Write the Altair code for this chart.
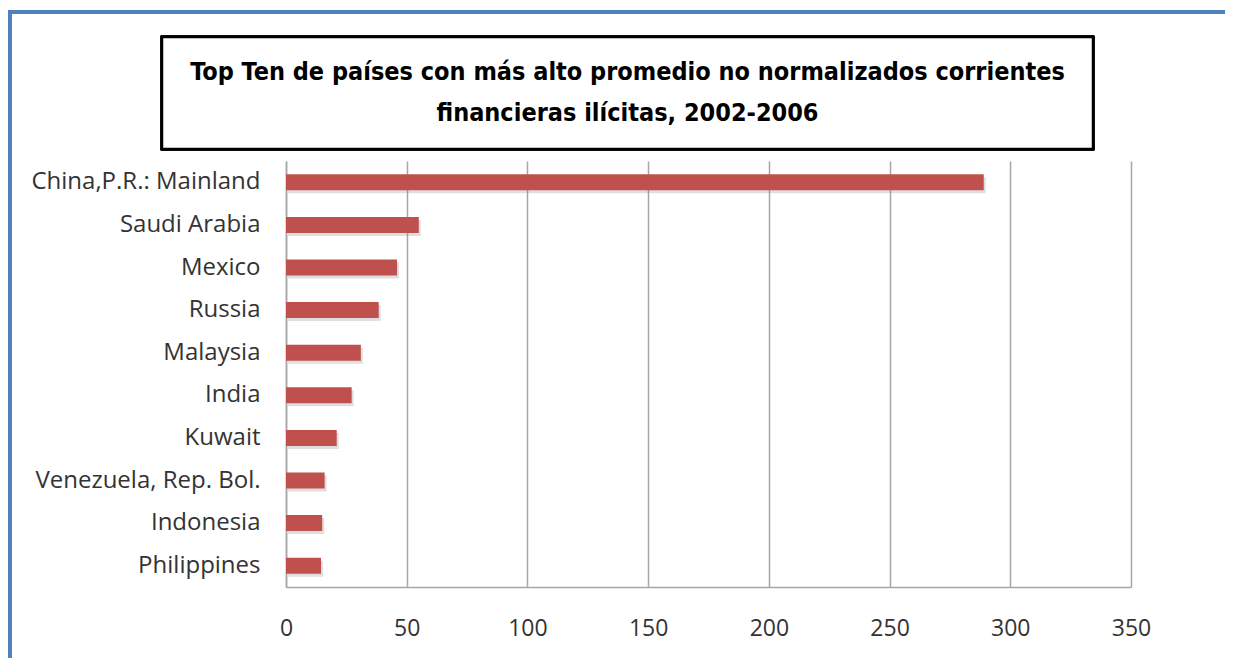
import altair as alt
import pandas as pd

countries = ["China,P.R.: Mainland", "Saudi Arabia", "Mexico", "Russia", "Malaysia",
             "India", "Kuwait", "Venezuela, Rep. Bol.", "Indonesia", "Philippines"]
values = [289, 55, 46, 38.4, 31, 27.2, 21, 16, 15, 14.5]
x_ticks = [0, 50, 100, 150, 200, 250, 300, 350]
title_line1 = "Top Ten de países con más alto promedio no normalizados corrientes"
title_line2 = "financieras ilícitas, 2002-2006"

df = pd.DataFrame({"country": countries, "value": values})

W, H = 845, 426
PL, PT = 278, 153
TOTAL_W, TOTAL_H = 1217, 650
LABEL_FONT = "Open Sans"
TITLE_FONT = "Liberation Sans Narrow, Arial Narrow, DejaVu Sans Condensed, Liberation Sans"

y_scale = alt.Scale(paddingInner=0.625, paddingOuter=0.3125)
x_scale = alt.Scale(domain=[0, 350], nice=False)

y_enc = alt.Y("country:N", sort=countries, title=None, scale=y_scale,
              axis=alt.Axis(labelFont=LABEL_FONT, labelFontSize=24, labelColor="#333333",
                            labelPadding=26, ticks=False, domainColor="#A6A6A6",
                            domainWidth=1.5, grid=False, labelLimit=400))
x_enc = alt.X("value:Q", title=None, scale=x_scale,
              axis=alt.Axis(values=x_ticks, labelFont=LABEL_FONT, labelFontSize=23,
                            labelColor="#333333", labelPadding=30, ticks=False,
                            labelFlush=False,
                            domainColor="#A6A6A6", domainWidth=1.5,
                            gridColor="#A6A6A6", gridWidth=1.5))

shadow = alt.Chart(df).mark_bar(color="#7F7F7F", opacity=0.25, xOffset=2, yOffset=3).encode(
    x=alt.X("value:Q", scale=x_scale),
    y=alt.Y("country:N", sort=countries, scale=y_scale),
)
bars = alt.Chart(df).mark_bar(color="#C0504D").encode(x=x_enc, y=y_enc)

title_box = alt.Chart(df).mark_rect(fill="white", stroke="black", strokeWidth=2.5).encode(
    x=alt.value(162 - 286), x2=alt.value(1093 - 286),
    y=alt.value(37 - 161), y2=alt.value(149 - 161))

frame = alt.Chart(df).mark_rect(fill=None, stroke="#4F81BD", strokeWidth=4).encode(
    x=alt.value(10 - 286), x2=alt.value(1300 - 286),
    y=alt.value(12 - 161), y2=alt.value(720 - 161))

t1 = alt.Chart(pd.DataFrame({"t": [title_line1]})).mark_text(
    font=TITLE_FONT, fontWeight="bold", fontSize=25, color="black",
    align="center", baseline="middle").encode(
    text="t:N", x=alt.value(627.5 - 286), y=alt.value(72 - 161))
t2 = alt.Chart(pd.DataFrame({"t": [title_line2]})).mark_text(
    font=TITLE_FONT, fontWeight="bold", fontSize=25, color="black",
    align="center", baseline="middle").encode(
    text="t:N", x=alt.value(627.5 - 286), y=alt.value(113 - 161))

chart = alt.layer(frame, title_box, t1, t2, shadow, bars).properties(
    width=W, height=H,
    autosize=alt.AutoSizeParams(type="none"),
    padding={"left": PL, "top": PT, "right": TOTAL_W - PL - W, "bottom": TOTAL_H - PT - H},
    background="white",
).configure_view(stroke=None)

chart.save("out.html", embed_options={"renderer": "svg", "actions": False})
